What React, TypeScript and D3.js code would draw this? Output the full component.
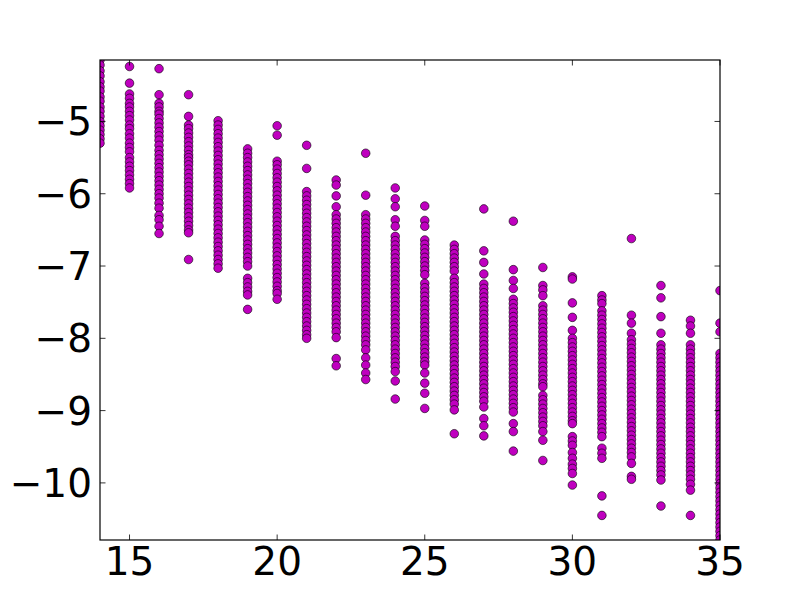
import React from "react";
import * as d3 from "d3";

const xCats: number[] = [14, 15, 16, 17, 18, 19, 20, 21, 22, 23, 24, 25, 26, 27, 28, 29, 30, 31, 32, 33, 34, 35];
const col14 = [-4.15,-4.22,-4.3,-4.37,-4.45,-4.52,-4.58,-4.66,-4.72,-4.8,-4.86,-4.93,-5.0,-5.06,-5.12,-5.18,-5.24,-5.3];
const col15 = [-4.24,-4.47,-4.62,-4.68,-4.75,-4.8,-4.86,-4.92,-4.98,-5.05,-5.1,-5.17,-5.23,-5.3,-5.36,-5.42,-5.5,-5.56,-5.62,-5.68,-5.74,-5.8,-5.86,-5.92];
const col16 = [-4.27,-4.63,-4.75,-4.8,-4.86,-4.9,-4.96,-5.02,-5.08,-5.14,-5.2,-5.26,-5.33,-5.4,-5.46,-5.52,-5.58,-5.64,-5.7,-5.76,-5.82,-5.88,-5.94,-6.0,-6.06,-6.13,-6.2,-6.3,-6.36,-6.45,-6.55];
const col17 = [-4.63,-4.93,-5.05,-5.1,-5.16,-5.22,-5.28,-5.34,-5.4,-5.46,-5.5,-5.55,-5.6,-5.66,-5.72,-5.78,-5.84,-5.9,-5.96,-6.02,-6.08,-6.14,-6.2,-6.26,-6.32,-6.38,-6.44,-6.5,-6.54,-6.91];
const col18 = [-4.99,-5.05,-5.11,-5.17,-5.23,-5.29,-5.35,-5.41,-5.47,-5.53,-5.59,-5.65,-5.71,-5.77,-5.83,-5.89,-5.95,-6.01,-6.07,-6.13,-6.19,-6.25,-6.31,-6.37,-6.43,-6.49,-6.55,-6.61,-6.67,-6.73,-6.79,-6.85,-6.91,-6.97,-7.03];
const col19 = [-5.38,-5.44,-5.5,-5.56,-5.62,-5.68,-5.74,-5.8,-5.86,-5.92,-5.98,-6.04,-6.1,-6.16,-6.22,-6.28,-6.34,-6.4,-6.46,-6.52,-6.58,-6.64,-6.7,-6.76,-6.82,-6.88,-6.94,-7.0,-7.17,-7.23,-7.29,-7.35,-7.4,-7.6];
const col20 = [-5.06,-5.19,-5.55,-5.6,-5.66,-5.72,-5.78,-5.84,-5.9,-5.96,-6.02,-6.08,-6.14,-6.2,-6.26,-6.32,-6.38,-6.44,-6.5,-6.56,-6.62,-6.68,-6.74,-6.8,-6.86,-6.92,-6.98,-7.04,-7.1,-7.16,-7.22,-7.28,-7.34,-7.38,-7.46];
const col21 = [-5.33,-5.65,-5.97,-6.03,-6.09,-6.15,-6.21,-6.27,-6.33,-6.39,-6.45,-6.51,-6.57,-6.63,-6.69,-6.75,-6.81,-6.87,-6.93,-6.99,-7.05,-7.11,-7.17,-7.23,-7.29,-7.35,-7.41,-7.47,-7.53,-7.59,-7.65,-7.71,-7.77,-7.83,-7.89,-7.95,-8.0];
const col22 = [-5.81,-5.88,-6.03,-6.18,-6.29,-6.35,-6.41,-6.47,-6.53,-6.59,-6.65,-6.71,-6.77,-6.83,-6.89,-6.95,-7.01,-7.07,-7.13,-7.19,-7.25,-7.31,-7.37,-7.43,-7.49,-7.55,-7.61,-7.67,-7.73,-7.79,-7.85,-7.91,-7.99,-8.28,-8.38];
const col23 = [-5.44,-6.02,-6.29,-6.35,-6.41,-6.47,-6.53,-6.59,-6.65,-6.71,-6.77,-6.83,-6.89,-6.95,-7.01,-7.07,-7.13,-7.19,-7.25,-7.31,-7.37,-7.43,-7.49,-7.55,-7.61,-7.67,-7.73,-7.79,-7.85,-7.91,-7.97,-8.03,-8.09,-8.16,-8.27,-8.37,-8.48,-8.57];
const col24 = [-5.92,-6.07,-6.18,-6.36,-6.45,-6.59,-6.65,-6.71,-6.77,-6.83,-6.89,-6.95,-7.01,-7.07,-7.13,-7.19,-7.25,-7.31,-7.37,-7.43,-7.49,-7.55,-7.61,-7.67,-7.73,-7.79,-7.85,-7.91,-7.97,-8.03,-8.09,-8.15,-8.21,-8.27,-8.33,-8.39,-8.46,-8.59,-8.84];
const col25 = [-6.17,-6.37,-6.45,-6.64,-6.7,-6.76,-6.82,-6.88,-6.94,-7.0,-7.06,-7.12,-7.24,-7.3,-7.36,-7.42,-7.48,-7.54,-7.6,-7.66,-7.72,-7.78,-7.84,-7.9,-7.96,-8.02,-8.08,-8.14,-8.2,-8.26,-8.32,-8.37,-8.48,-8.62,-8.76,-8.97];
const col26 = [-6.71,-6.77,-6.83,-6.89,-6.95,-7.01,-7.07,-7.17,-7.23,-7.29,-7.35,-7.41,-7.47,-7.53,-7.59,-7.65,-7.71,-7.77,-7.83,-7.89,-7.95,-8.01,-8.07,-8.13,-8.19,-8.25,-8.31,-8.37,-8.43,-8.49,-8.55,-8.61,-8.67,-8.73,-8.79,-8.85,-8.91,-8.99,-9.32];
const col27 = [-6.21,-6.79,-6.95,-7.11,-7.25,-7.31,-7.37,-7.43,-7.49,-7.55,-7.61,-7.67,-7.73,-7.79,-7.85,-7.91,-7.97,-8.03,-8.09,-8.15,-8.21,-8.27,-8.33,-8.39,-8.45,-8.51,-8.57,-8.63,-8.69,-8.75,-8.81,-8.87,-8.95,-9.11,-9.21,-9.35];
const col28 = [-6.38,-7.05,-7.2,-7.31,-7.46,-7.52,-7.58,-7.64,-7.7,-7.76,-7.82,-7.88,-7.94,-8.0,-8.06,-8.12,-8.18,-8.24,-8.3,-8.36,-8.42,-8.48,-8.54,-8.6,-8.66,-8.72,-8.78,-8.84,-8.9,-8.96,-9.02,-9.18,-9.29,-9.56];
const col29 = [-7.02,-7.27,-7.33,-7.41,-7.55,-7.61,-7.67,-7.73,-7.79,-7.85,-7.91,-7.97,-8.03,-8.09,-8.15,-8.21,-8.27,-8.33,-8.39,-8.45,-8.51,-8.57,-8.63,-8.67,-8.79,-8.85,-8.91,-8.97,-9.03,-9.09,-9.15,-9.21,-9.29,-9.41,-9.69];
const col30 = [-7.15,-7.18,-7.51,-7.71,-7.89,-8.0,-8.06,-8.12,-8.18,-8.24,-8.3,-8.36,-8.42,-8.48,-8.54,-8.6,-8.66,-8.72,-8.78,-8.84,-8.9,-8.96,-9.02,-9.08,-9.14,-9.18,-9.36,-9.42,-9.48,-9.58,-9.66,-9.74,-9.8,-9.87,-10.03];
const col31 = [-7.41,-7.47,-7.52,-7.62,-7.68,-7.74,-7.8,-7.86,-7.92,-7.98,-8.04,-8.1,-8.16,-8.22,-8.28,-8.34,-8.4,-8.46,-8.52,-8.58,-8.64,-8.7,-8.76,-8.82,-8.88,-8.94,-9.0,-9.06,-9.12,-9.18,-9.24,-9.3,-9.36,-9.52,-9.59,-9.66,-10.18,-10.45];
const col32 = [-6.62,-7.68,-7.79,-7.93,-8.02,-8.08,-8.14,-8.2,-8.26,-8.32,-8.38,-8.44,-8.5,-8.56,-8.62,-8.68,-8.74,-8.8,-8.86,-8.92,-8.98,-9.04,-9.1,-9.16,-9.22,-9.28,-9.34,-9.4,-9.46,-9.52,-9.58,-9.64,-9.73,-9.91,-9.95];
const col33 = [-7.27,-7.44,-7.7,-7.93,-8.09,-8.15,-8.21,-8.27,-8.33,-8.39,-8.45,-8.51,-8.57,-8.63,-8.69,-8.75,-8.81,-8.87,-8.93,-8.99,-9.05,-9.11,-9.17,-9.23,-9.29,-9.35,-9.41,-9.47,-9.53,-9.59,-9.65,-9.71,-9.77,-9.83,-9.89,-9.96,-10.32];
const col34 = [-7.75,-7.83,-7.93,-8.09,-8.15,-8.21,-8.27,-8.33,-8.39,-8.45,-8.51,-8.57,-8.63,-8.69,-8.75,-8.81,-8.87,-8.93,-8.99,-9.05,-9.11,-9.17,-9.23,-9.29,-9.35,-9.41,-9.47,-9.53,-9.59,-9.65,-9.71,-9.77,-9.83,-9.89,-9.95,-10.02,-10.1,-10.45];
const col35 = [-7.34,-7.79,-7.91,-8.21,-8.27,-8.33,-8.39,-8.45,-8.51,-8.57,-8.63,-8.69,-8.75,-8.81,-8.87,-8.93,-8.99,-9.05,-9.11,-9.17,-9.23,-9.29,-9.35,-9.41,-9.47,-9.53,-9.59,-9.65,-9.71,-9.77,-9.83,-9.89,-9.95,-10.01,-10.07,-10.13,-10.19,-10.25,-10.31,-10.37,-10.43,-10.49,-10.55,-10.61,-10.67,-10.73,-10.79];

const columns: number[][] = [col14, col15, col16, col17, col18, col19, col20, col21, col22, col23, col24, col25, col26, col27, col28, col29, col30, col31, col32, col33, col34, col35];
const xTicks: number[] = [15, 20, 25, 30, 35];
const yTicks: number[] = [-5, -6, -7, -8, -9, -10];

export default function App() {
  const W = 800, H = 600;
  const left = 100, right = 720, top = 60, bottom = 540;
  const points = columns.flatMap((col, i) => col.map((v) => ({ x: xCats[i], y: v })));
  const x = d3.scaleLinear().domain(d3.extent(xCats) as [number, number]).range([left, right]);
  const y = d3.scaleLinear().domain(d3.extent(points, (p) => p.y) as [number, number]).range([bottom, top]);
  const tl = 5.5;
  const fmt = (v: number) => (v < 0 ? "\u2212" + Math.abs(v) : String(v));
  const font = "DejaVu Sans, sans-serif";
  return (
    <svg width={W} height={H} style={{ position: "absolute", left: 0, top: 0, background: "#fff" }}>
      <defs>
        <clipPath id="plotclip">
          <rect x={left} y={top} width={right - left} height={bottom - top} />
        </clipPath>
      </defs>
      <rect x={0} y={0} width={W} height={H} fill="#fff" />
      <g clipPath="url(#plotclip)">
        {points.map((p, i) => (
          <circle key={i} cx={x(p.x)} cy={y(p.y)} r={4.3} fill="#bf00bf" stroke="#000" strokeWidth={0.6} />
        ))}
      </g>
      <rect x={left} y={top} width={right - left} height={bottom - top} fill="none" stroke="#000" strokeWidth={1.2} />
      {xTicks.map((t) => (
        <g key={"x" + t}>
          <line x1={x(t)} x2={x(t)} y1={bottom} y2={bottom - tl} stroke="#000" strokeWidth={0.8} />
          <line x1={x(t)} x2={x(t)} y1={top} y2={top + tl} stroke="#000" strokeWidth={0.8} />
          <text x={x(t)} y={575} textAnchor="middle" fontFamily={font} fontSize={39} fill="#000">{fmt(t)}</text>
        </g>
      ))}
      {yTicks.map((t) => (
        <g key={"y" + t}>
          <line x1={left} x2={left + tl} y1={y(t)} y2={y(t)} stroke="#000" strokeWidth={0.8} />
          <line x1={right} x2={right - tl} y1={y(t)} y2={y(t)} stroke="#000" strokeWidth={0.8} />
          <text x={92} y={y(t) + 14} textAnchor="end" fontFamily={font} fontSize={39} fill="#000">{fmt(t)}</text>
        </g>
      ))}
    </svg>
  );
}
